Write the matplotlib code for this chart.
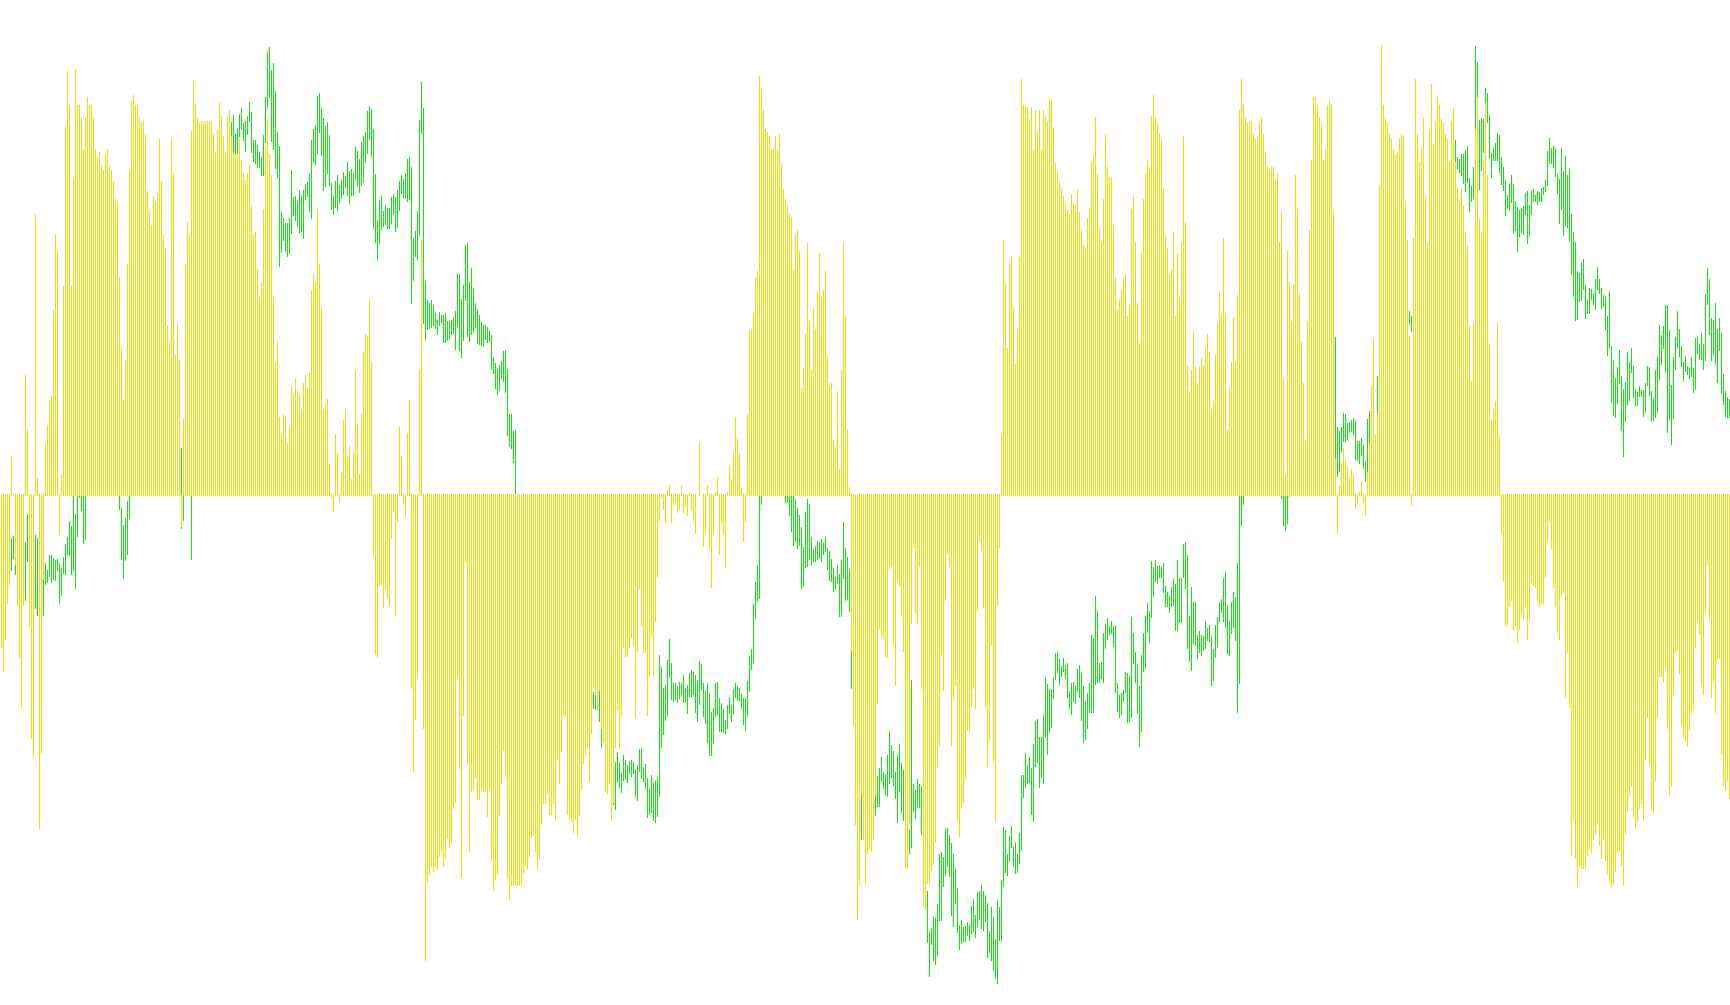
import numpy as np
import matplotlib
matplotlib.use("Agg")
import matplotlib.pyplot as plt

yellow_a = [-153,-177,-145,-109,-90,38,-2,-70,-111,-163,-213,-111,119,64,-132,-244,-261,280,16,-334,-259,-85,51,69,94,98,184,259,243,-40,20,208,368,423,389,208,316,425,389,389,376,345,376,397,389,389,376,345,337,342,329,324,340,345,329,324,313,295,293,217,147,95,135,230,324,394,399,389,389,376,371,373,360,303,285,269,298,293,301,355,313,259,246,168,152,355,321,139,171,134,-32,75,229,272,259,363,413,389,376,371,373,373,373,373,373,373,360,342]
yellow_b = [365,391,378,358,342,378,384,358,341,340,340,355,334,321,314,321,329,288,259,262,225,197,212,285,348,376,340,319,197,132,152,77,60,80,77,51,67,108,100,116,103,100,85,111,119,106,121,204,220,212,285,230,186,85,90,95,30,-3,-17,60,41,-8,22,74,85,38,48,15,41,124,69,20,80,142,160,158,194,132,-61,-160,-163,-91,-90,-113,-95,-103,-111,-43,-17,-121,-27,67,38,-9,-22,61,94,-194,-277,-225,-183,124,254,-234,-466,-388,-380,-372]
yellow_c = [-377,-372,-375,-362,-356,-372,-364,-344,-353,-349,-314,-307,-183,-274,-383,-221,-68,-269,-357,-297,-295,-284,-305,-305,-295,-297,-297,-322,-295,-365,-396,-385,-380,-320,-289,-256,-282,-383,-405,-391,-391,-391,-391,-391,-391,-378,-372,-375,-362,-344,-341,-357,-375,-365,-330,-309,-309,-299,-320,-320,-309,-325,-265,-289,-257,-221,-221,-320,-325,-327,-338,-325,-341,-320,-295,-269,-261,-253,-287,-239,-193,-200,-216,-196,-234,-248,-297,-299,-289,-325,-308,-253,-216,-253,-221,-153,-162,-162,-153,-143,-152,-223,-157,-94,-132,-158,-158,-221]
yellow_d = [-182,-142,-182,-127,-83,-26,-3,-15,-28,4,9,-28,-10,-8,-18,-15,9,-18,-12,-21,2,-15,-26,-39,0,51,0,-52,-39,9,-54,-93,-39,2,17,-60,-28,-39,-73,2,28,15,41,77,56,41,7,-47,-28,80,163,165,181,217,223,418,405,385,365,362,358,345,345,358,345,360,330,305,295,288,280,277,225,259,264,243,106,126,160,251,173,124,186,165,202,241,197,204,223,139,108,111,54,48,103,25,124,251,178,64,7,-156,-231,-330,-425,-390,-299,-345]
yellow_e = [-389,-360,-355,-357,-345,-300,-209,-134,-142,-144,-163,-163,-74,-72,-150,-191,-87,-92,-121,-157,-374,-373,-329,-129,-53,-118,-129,-72,-194,-412,-415,-389,-389,-376,-370,-347,-272,-251,-160,-196,-106,-59,-72,-251,-204,-191,-326,-342,-313,-308,-285,-235,-238,-212,-194,-215,-116,-46,-56,-113,-212,-272,-246,-150,-267,-326,-111,-53,60,254,211,146,231,238,187,130,166,237,415,389,387,387,375,387,345,384,362,384,345,384,378,373,395,393,367,331,323,312,306,298,290,284,280,300,291,289,305,282]
yellow_f = [264,249,246,276,285,332,339,377,321,267,252,295,360,327,316,316,269,217,184,194,204,215,220,178,189,285,298,252,191,151,241,295,321,334,327,378,399,377,371,360,355,306,259,246,220,225,262,178,241,197,252,358,272,129,103,124,163,127,111,127,137,129,147,160,142,85,93,139,171,202,181,256,181,64,106,132,177,132,199,384,415,389,377,371,373,373,360,355,358,371,377,360,342,327,325,327,327,314,321,252,282,116,20,243,212,173,210,319]
yellow_g = [285,200,152,111,54,173,264,334,397,397,389,376,371,334,345,389,394,389,285,35,-39,9,31,46,35,28,17,25,20,-13,-8,2,12,-8,-21,22,51,108,155,59,80,308,449,389,376,371,360,355,345,339,342,355,360,358,293,254,158,-10,256,415,360,332,347,376,298,251,365,410,350,373,397,389,376,371,360,355,332,373,386,332,306,295,306,288,262,249,168,113,171,365,397,275,262,334,391,319,150,74,85,93,171,59]
yellow_h = [-39,-86,-132,-130,-112,-106,-135,-132,-148,-135,-119,-125,-112,-145,-125,-88,-91,-93,-106,-112,-109,-109,-83,-47,-28,-54,-93,-112,-138,-145,-101,-98,-203,-158,-213,-361,-325,-364,-392,-371,-374,-374,-374,-361,-355,-358,-345,-340,-330,-351,-364,-345,-366,-379,-387,-392,-390,-377,-358,-356,-371,-390,-340,-317,-301,-291,-322,-333,-327,-314,-309,-325,-265,-223,-270,-314,-317,-286,-223,-182,-182,-187,-174,-234,-301,-291,-200,-158,-156,-179,-231,-242,-247,-252,-236,-218,-216,-153,-127,-140,-192,-200,-119,-70,-125,-203,-187,-218,-166,-164,-260,-291,-296,-286,-304]

green_runs = [(5,3),(11,3),(17,2),(21,22),(59,6),(90,2),(95,1),(115,101),(216,42),(296,2),(299,2),(306,75),(392,35),(430,1),(437,185),(640,5),(667,19),(688,1),(704,2),(727,138)]

green_hi = [
-44,-42,-65, -98,-48,-20, -41,-44,
-86,-69,-76,-61,-61,-64,-66,-65,-69,-74,-63,-50,-43,-27,-32,0,-20,0,0,0,0,0,
0,-14,-31,-24,-7,0, 46,0, 0,
372,379,360,366,380,386,371,373,378,392,382,354,354,349,342,337,359,397,442,447,424,431,403,362,348,282,276,271,271,276,324,297,298,293,304,298,304,310,312,320,354,365,369,398,401,386,376,368,372,359,311,298,313,319,309,314,322,318,332,323,325,321,347,343,335,352,358,362,383,388,385,365,320,274,294,298,283,289,286,286,297,300,297,304,313,319,315,321,335,337,327,256,263,283,374,412,386,213,194,191,194,
189,181,174,182,179,179,181,173,173,174,177,183,220,220,195,209,249,251,212,226,206,191,184,179,172,169,169,167,163,159,137,131,125,129,133,143,144,125,80,80,63,64,
-198,-200, -196,-234,
-307,-268,-258,-268,-279,-261,-266,-271,-267,-266,-268,-276,-271,-255,-254,-273,-270,-284,
-295,-281,-289,-287,-283,-161,-173,-194,-191,-166,-145,-169,-189,-189,-192,-188,-189,-181,-194,-191,-179,-176,-178,-181,-186,-167,-170,-189,-197,-189,-199,-218,-214,-189,-188,-204,-209,-215,-226,-211,-203,-211,-195,-189,-192,-194,-200,-204,-204,-187,-162,-155,-110,-88,-71,0,0,
0,0,0,0,0,-5,-14,-21,-33,-53,-18,-5,-10,-43,-55,-52,-47,-48,-45,-49,-43,-54,-57,-65,-74,-83,-71,-80,-66,-28,-54,-63,-75,-96,-181,
-299,
-300,-282,-274,-263,-278,-280,-261,-237,-251,-257,-278,-261,-250,-269,-276,-325,-330,-336,-186,-290,-296,-285,-290,-292,-391,-395,-397,-437,-434,-423,-424,-410,-360,-358,-363,-335,-334,-341,-349,-360,-375,-394,-431,-426,-433,-432,-428,-431,-412,-405,-421,-398,-397,-391,-397,-401,-409,-437,-413,-423,-445,-406,-413,-386,-333,-336,-360,-342,-332,-353,-348,-360,-339,-281,-281,-259,-271,-263,-274,-250,-227,-225,-243,-243,-221,-183,-190,-195,-195,-183,-159,-158,-165,-172,-164,-171,-169,-197,-189,-188,-192,-175,-171,
-179,-192,-207,-199,-189,-141,-144,-102,-117,-169,-168,-139,-130,-124,-132,-127,-132,-131,-189,-201,-199,-196,-178,-179,-182,-123,-139,-158,-170,-192,-161,-139,-122,-109,-117,-67,-73,-66,-72,-71,-73,-69,-92,-98,-102,-93,-85,-90,-66,-84,-84,-50,-48,-61,-122,-93,-108,-108,-141,-137,-141,-142,-127,-134,-131,-142,-155,-131,-123,-108,-105,-84,-78,-111,-127,-108,-98,-103,-69,0,0,0,
0,0,0,0,0,
157,67,63,67,81,80,71,72,74,76,74,53,53,56,49,33,75,83,95,
118,
183,178,
354,337,335,340,340,344,348,316,308,327,448,432,374,376,375,406,401,379,341,346,351,361,359,337,327,314,299,310,319,310,293,287,284,286,288,301,303,289,304,305,299,303,302,306,307,314,343,356,346,348,346,320,315,346,323,338,319,325,280,262,252,223,221,231,235,209,194,206,205,200,215,227,215,206,199,198,178,203,148,134,116,127,144,118,105,112,142,132,146,128,105,102,108,104,104,111,128,127,103,96,124,137,169,159,168,189,189,164,109,137,157,183,165,148,132,138,128,127,137,126,156,157,150,161,150,200,226,215,176,174,191,165,176,161,120,103,97,95,
]

green_lo = [
-76,-64,-80, -111,-106,-67, -114,-121,
-121,-90,-88,-82,-88,-85,-86,-76,-109,-101,-79,-80,-60,-61,-80,-76,-94,-42,-3,-16,-49,-45,
-15,-65,-84,-66,-60,-24, -34,-26, -65,
341,341,340,341,358,365,354,343,360,373,342,333,331,327,327,319,319,352,387,397,353,345,326,317,228,242,254,243,238,241,261,279,274,268,262,263,256,295,298,283,276,332,330,341,362,339,304,308,321,309,285,280,287,284,292,296,300,307,299,291,299,299,315,308,302,309,312,332,341,355,338,266,252,235,251,265,268,270,266,266,271,280,263,267,284,301,297,296,293,295,191,214,238,235,259,361,171,155,165,166,167,
169,166,160,169,172,152,152,154,156,160,161,145,168,144,137,154,194,158,153,160,162,167,151,150,149,148,155,152,153,125,121,106,100,104,116,113,102,59,48,46,32,0,
-214,-215, -227,-253,
-310,-315,-287,-293,-298,-286,-285,-288,-279,-282,-279,-302,-306,-277,-284,-287,-294,-323,
-320,-318,-326,-328,-322,-302,-253,-240,-226,-221,-183,-205,-207,-205,-208,-204,-200,-208,-208,-219,-202,-202,-200,-218,-227,-210,-195,-222,-229,-248,-261,-261,-249,-222,-220,-237,-237,-238,-239,-234,-219,-227,-220,-203,-206,-206,-214,-230,-236,-221,-197,-175,-169,-124,-107,-104,-10,
-8,-8,-21,-37,-51,-47,-54,-51,-94,-92,-73,-72,-65,-70,-67,-67,-65,-64,-67,-60,-57,-75,-86,-87,-97,-95,-89,-122,-122,-84,-106,-105,-117,-194,-231,
-345,
-321,-312,-312,-287,-294,-301,-302,-289,-283,-291,-304,-328,-297,-318,-326,-374,-373,-359,-353,-317,-324,-313,-313,-340,-412,-415,-448,-482,-450,-466,-470,-461,-426,-426,-392,-381,-372,-382,-421,-432,-409,-438,-455,-449,-447,-447,-441,-446,-439,-437,-443,-432,-425,-434,-436,-427,-463,-458,-466,-476,-484,-489,-446,-446,-392,-378,-381,-367,-353,-372,-379,-378,-369,-356,-303,-293,-289,-288,-320,-327,-272,-268,-293,-283,-289,-243,-260,-238,-233,-204,-185,-178,-190,-182,-177,-184,-203,-214,-220,-207,-209,-197,-203,
-226,-248,-245,-234,-218,-218,-218,-190,-188,-188,-184,-188,-154,-145,-140,-139,-152,-198,-217,-223,-220,-207,-198,-228,-227,-223,-169,-188,-219,-252,-237,-177,-174,-138,-148,-123,-102,-87,-89,-83,-83,-98,-112,-112,-118,-112,-111,-136,-136,-128,-128,-83,-94,-154,-167,-176,-149,-151,-164,-158,-161,-156,-154,-146,-147,-191,-186,-163,-152,-127,-118,-127,-133,-159,-161,-139,-133,-146,-218,-189,-31,-10,
-4,-31,-36,-29,-2,
35,18,23,43,53,53,55,62,63,60,35,34,31,39,26,13,22,24,51,
80,
171,163,
332,326,322,319,311,303,312,283,293,296,365,397,305,324,342,391,372,336,317,334,334,334,322,310,304,279,286,284,292,261,264,243,258,262,260,280,251,259,280,293,293,290,293,293,300,303,309,331,331,327,318,301,271,285,259,269,267,253,220,198,174,175,193,194,205,176,181,181,195,190,185,205,201,186,188,165,139,147,92,79,77,91,111,64,38,73,90,94,122,97,89,89,98,98,78,82,109,99,74,74,77,82,115,130,146,123,62,75,50,76,125,147,138,128,114,123,120,116,118,102,105,141,135,135,125,134,190,160,134,140,130,112,144,101,90,78,77,77,
]

yellow = np.array(yellow_a + yellow_b + yellow_c + yellow_d + yellow_e + yellow_f + yellow_g + yellow_h, dtype=float)

green_idx = np.concatenate([np.arange(s, s + n) for s, n in green_runs])
m = min(len(green_idx), len(green_hi), len(green_lo))
green_idx = green_idx[:m]
hi = np.array(green_hi[:m], dtype=float)
lo = np.array(green_lo[:m], dtype=float)

BAR_COLOR = "#FFD700"
PRICE_COLOR = "#00F000"

fig = plt.figure(figsize=(17.30, 10.05), dpi=100, facecolor="white")
ax = fig.add_axes([0, 0, 1, 1])
ax.set_xlim(0, 1730)
ax.set_ylim(-511, 494)
ax.axis("off")

xs = 2 * np.arange(len(yellow)) + 1.0
ax.vlines(2 * green_idx + 1.0, lo, hi, colors=PRICE_COLOR, linewidth=0.72, antialiased=False, zorder=2)
base = np.where(yellow > 0, -1.0, 0.0)
ax.vlines(xs, base, yellow, colors=BAR_COLOR, linewidth=0.72, antialiased=False, zorder=3)

fig.savefig("out.png", dpi=100, facecolor="white")
